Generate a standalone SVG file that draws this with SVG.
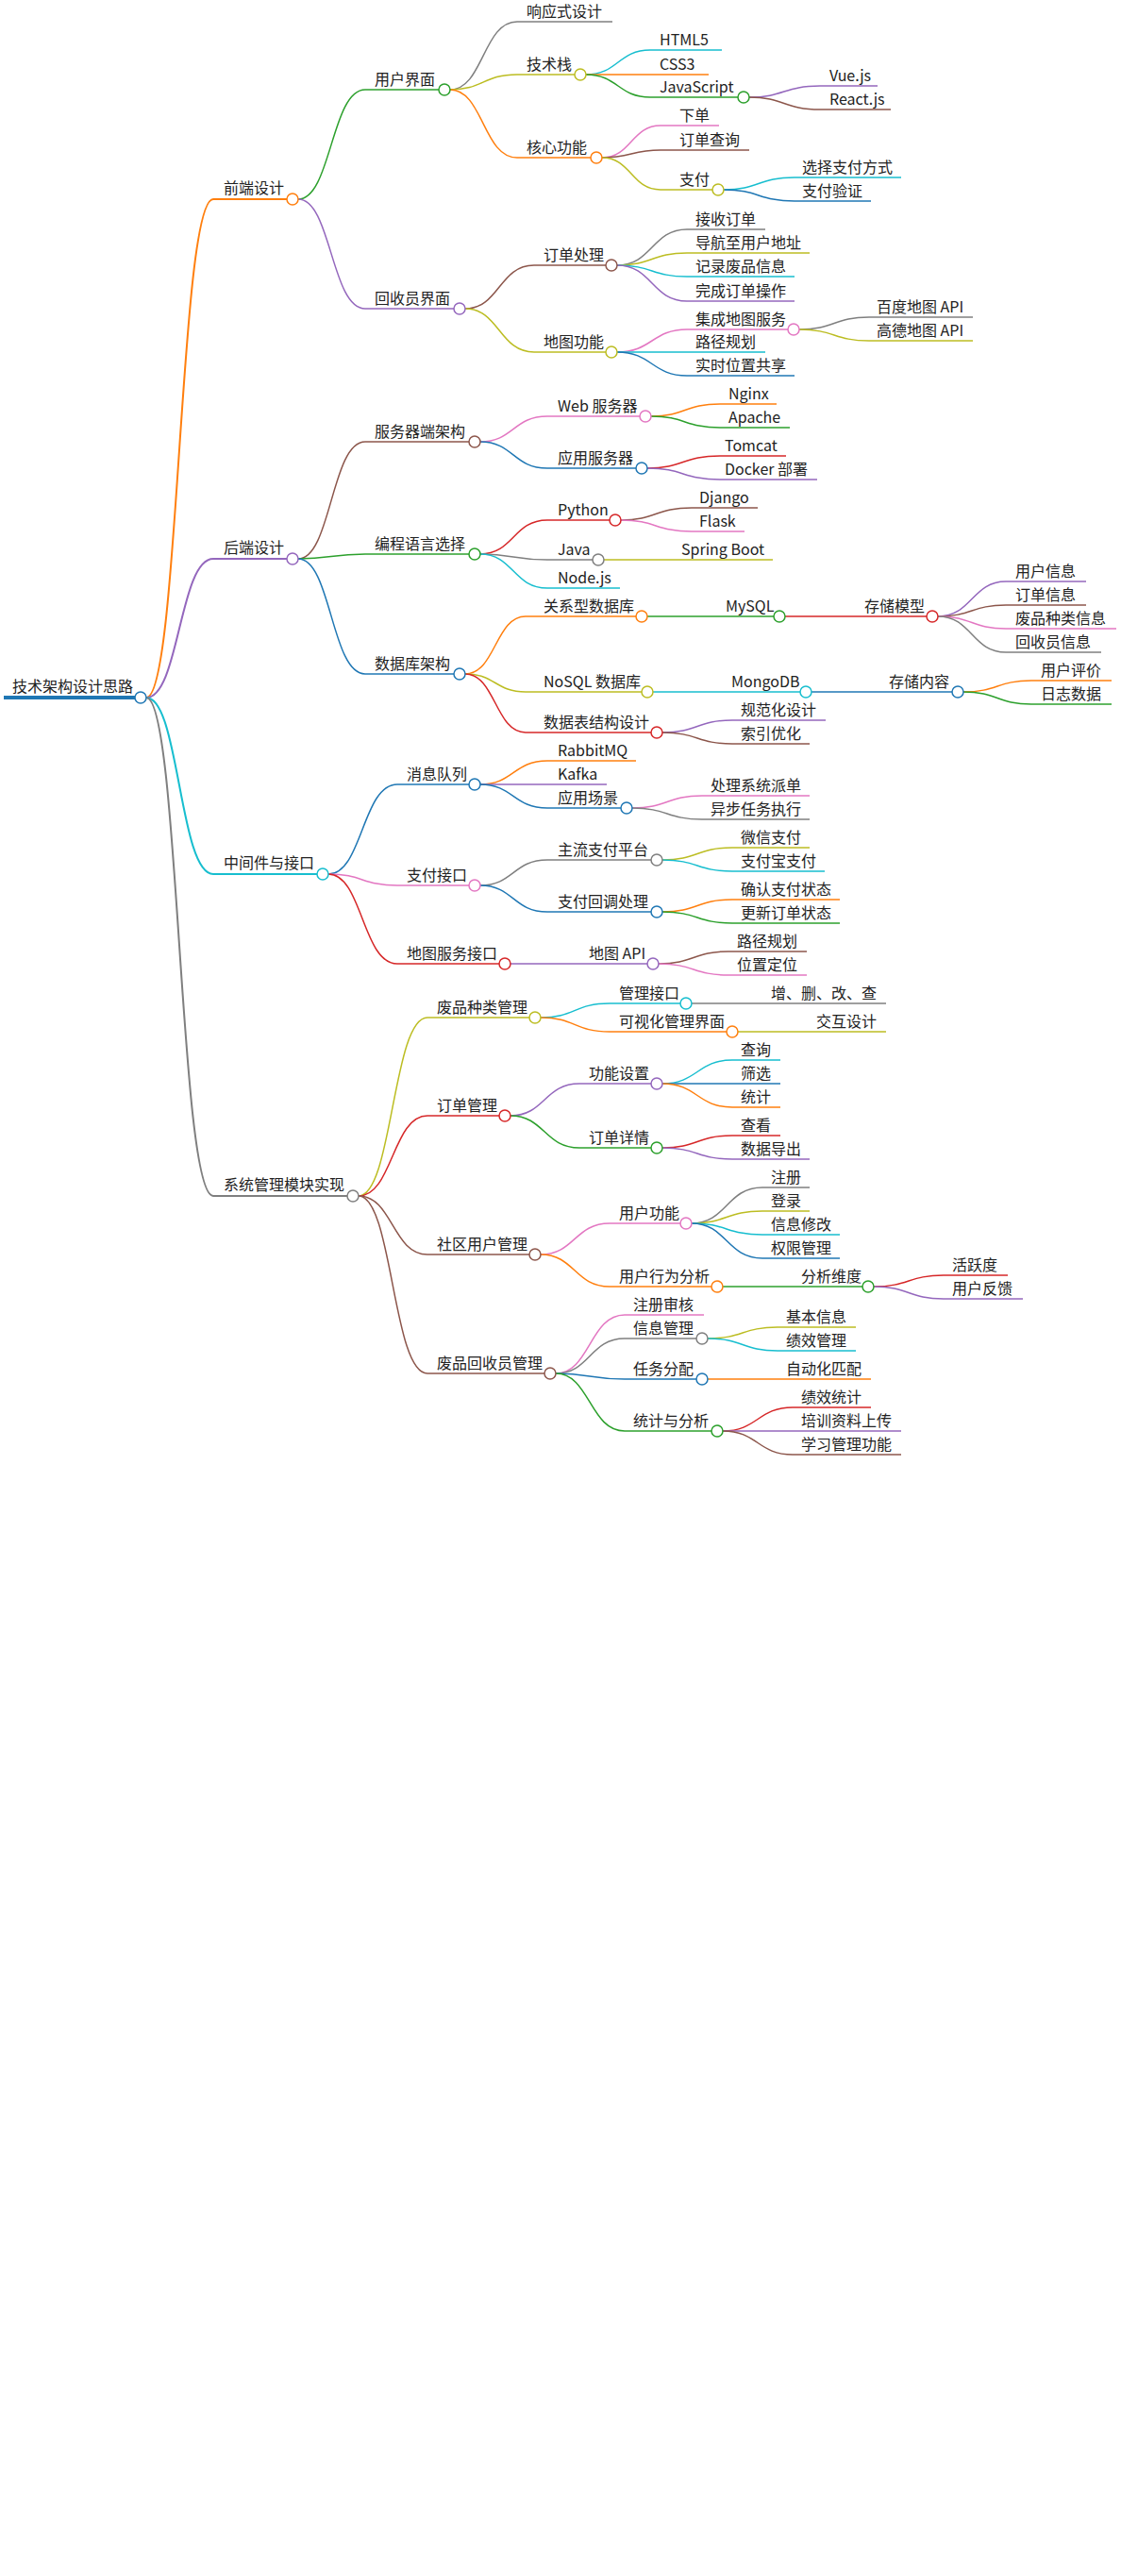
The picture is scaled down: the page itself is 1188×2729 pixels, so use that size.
<svg xmlns="http://www.w3.org/2000/svg" width="1188" height="2729" viewBox="0 0 1188 2729">
<style>
path{fill:none;stroke-width:1.5}
circle{fill:#fff;stroke-width:1.5}
text{font-family:"Noto Sans CJK SC","Noto Sans",sans-serif;font-size:16px;fill:#222}
.w2{stroke-width:2}
.B{stroke:#1f77b4}.O{stroke:#ff7f0e}.G{stroke:#2ca02c}.R{stroke:#d62728}.P{stroke:#9467bd}
.N{stroke:#8c564b}.K{stroke:#e377c2}.Y{stroke:#7f7f7f}.L{stroke:#bcbd22}.C{stroke:#17becf}
</style>
<rect width="1188" height="2729" fill="#fff"/>
<g id="connectors">
<path class="O w2" d="M155 739C190 739 190 211 226 211"/>
<path class="P w2" d="M155 739C190 739 190 592 226 592"/>
<path class="C w2" d="M155 739C190 739 190 926 226 926"/>
<path class="Y w2" d="M155 739C190 739 190 1267 226 1267"/>
<path class="G" d="M316 211C351 211 351 95 387 95"/>
<path class="P" d="M316 211C351 211 351 327 387 327"/>
<path class="N" d="M316 592C351 592 351 468 387 468"/>
<path class="G" d="M316 592C351 592 351 587 387 587"/>
<path class="B" d="M316 592C351 592 351 714 387 714"/>
<path class="B" d="M348 926C384 926 384 831 421 831"/>
<path class="K" d="M348 926C384 926 384 938 421 938"/>
<path class="R" d="M348 926C384 926 384 1021 421 1021"/>
<path class="L" d="M380 1267C416 1267 416 1078 453 1078"/>
<path class="R" d="M380 1267C416 1267 416 1182 453 1182"/>
<path class="N" d="M380 1267C416 1267 416 1329 453 1329"/>
<path class="N" d="M380 1267C416 1267 416 1455 453 1455"/>
<path class="Y" d="M477 95C512 95 512 23 548 23"/>
<path class="L" d="M477 95C512 95 512 79 548 79"/>
<path class="O" d="M477 95C512 95 512 167 548 167"/>
<path class="C" d="M621 79C655 79 655 53 689 53"/>
<path class="O" d="M621 79C655 79 655 79 689 79"/>
<path class="G" d="M621 79C655 79 655 103 689 103"/>
<path class="P" d="M794 103C831 103 831 91 869 91"/>
<path class="N" d="M794 103C831 103 831 116 869 116"/>
<path class="K" d="M638 167C669 167 669 133 700 133"/>
<path class="N" d="M638 167C669 167 669 159 700 159"/>
<path class="L" d="M638 167C669 167 669 201 700 201"/>
<path class="C" d="M767 201C804 201 804 188 842 188"/>
<path class="B" d="M767 201C804 201 804 213 842 213"/>
<path class="N" d="M493 327C529 327 529 281 566 281"/>
<path class="L" d="M493 327C529 327 529 373 566 373"/>
<path class="Y" d="M654 281C691 281 691 243 728 243"/>
<path class="L" d="M654 281C691 281 691 268 728 268"/>
<path class="C" d="M654 281C691 281 691 293 728 293"/>
<path class="P" d="M654 281C691 281 691 319 728 319"/>
<path class="K" d="M654 373C691 373 691 349 728 349"/>
<path class="C" d="M654 373C691 373 691 373 728 373"/>
<path class="B" d="M654 373C691 373 691 398 728 398"/>
<path class="Y" d="M847 349C884 349 884 336 921 336"/>
<path class="L" d="M847 349C884 349 884 361 921 361"/>
<path class="K" d="M509 468C544 468 544 441 580 441"/>
<path class="B" d="M509 468C544 468 544 496 580 496"/>
<path class="O" d="M690 441C726 441 726 428 763 428"/>
<path class="G" d="M690 441C726 441 726 453 763 453"/>
<path class="R" d="M686 496C724 496 724 483 763 483"/>
<path class="P" d="M686 496C724 496 724 508 763 508"/>
<path class="R" d="M509 587C544 587 544 551 580 551"/>
<path class="Y" d="M509 587C544 587 544 593 580 593"/>
<path class="C" d="M509 587C544 587 544 623 580 623"/>
<path class="N" d="M658 551C695 551 695 538 733 538"/>
<path class="K" d="M658 551C695 551 695 563 733 563"/>
<path class="L" d="M640 593H714"/>
<path class="O" d="M493 714C525 714 525 653 557 653"/>
<path class="L" d="M493 714C525 714 525 733 557 733"/>
<path class="R" d="M493 714C525 714 525 776 557 776"/>
<path class="G" d="M686 653H760"/>
<path class="R" d="M832 653H908"/>
<path class="P" d="M994 653C1030 653 1030 616 1066 616"/>
<path class="N" d="M994 653C1030 653 1030 641 1066 641"/>
<path class="K" d="M994 653C1030 653 1030 666 1066 666"/>
<path class="Y" d="M994 653C1030 653 1030 691 1066 691"/>
<path class="C" d="M692 733H767"/>
<path class="B" d="M860 733H934"/>
<path class="O" d="M1021 733C1057 733 1057 721 1093 721"/>
<path class="G" d="M1021 733C1057 733 1057 746 1093 746"/>
<path class="P" d="M702 776C739 776 739 763 776 763"/>
<path class="N" d="M702 776C739 776 739 788 776 788"/>
<path class="O" d="M509 831C544 831 544 806 580 806"/>
<path class="P" d="M509 831C544 831 544 831 580 831"/>
<path class="B" d="M509 831C544 831 544 856 580 856"/>
<path class="K" d="M670 856C707 856 707 843 744 843"/>
<path class="Y" d="M670 856C707 856 707 868 744 868"/>
<path class="Y" d="M509 938C544 938 544 911 580 911"/>
<path class="B" d="M509 938C544 938 544 966 580 966"/>
<path class="L" d="M702 911C739 911 739 898 776 898"/>
<path class="C" d="M702 911C739 911 739 923 776 923"/>
<path class="O" d="M702 966C739 966 739 953 776 953"/>
<path class="G" d="M702 966C739 966 739 978 776 978"/>
<path class="P" d="M541 1021H614"/>
<path class="N" d="M698 1021C735 1021 735 1008 772 1008"/>
<path class="K" d="M698 1021C735 1021 735 1033 772 1033"/>
<path class="C" d="M573 1078C609 1078 609 1063 646 1063"/>
<path class="O" d="M573 1078C609 1078 609 1093 646 1093"/>
<path class="Y" d="M733 1063H808"/>
<path class="L" d="M782 1093H856"/>
<path class="P" d="M541 1182C577 1182 577 1148 614 1148"/>
<path class="G" d="M541 1182C577 1182 577 1216 614 1216"/>
<path class="C" d="M702 1148C739 1148 739 1123 776 1123"/>
<path class="B" d="M702 1148H776"/>
<path class="O" d="M702 1148C739 1148 739 1173 776 1173"/>
<path class="R" d="M702 1216C739 1216 739 1203 776 1203"/>
<path class="P" d="M702 1216C739 1216 739 1228 776 1228"/>
<path class="K" d="M573 1329C609 1329 609 1296 646 1296"/>
<path class="O" d="M573 1329C609 1329 609 1363 646 1363"/>
<path class="Y" d="M733 1296C770 1296 770 1258 808 1258"/>
<path class="L" d="M733 1296C770 1296 770 1283 808 1283"/>
<path class="C" d="M733 1296C770 1296 770 1308 808 1308"/>
<path class="B" d="M733 1296C770 1296 770 1333 808 1333"/>
<path class="G" d="M766 1363H840"/>
<path class="R" d="M926 1363C963 1363 963 1351 1000 1351"/>
<path class="P" d="M926 1363C963 1363 963 1376 1000 1376"/>
<path class="K" d="M589 1455C625 1455 625 1393 662 1393"/>
<path class="Y" d="M589 1455C625 1455 625 1418 662 1418"/>
<path class="B" d="M589 1455C625 1455 625 1461 662 1461"/>
<path class="G" d="M589 1455C625 1455 625 1516 662 1516"/>
<path class="L" d="M750 1418C787 1418 787 1406 824 1406"/>
<path class="C" d="M750 1418C787 1418 787 1431 824 1431"/>
<path class="O" d="M750 1461H824"/>
<path class="R" d="M766 1516C803 1516 803 1491 840 1491"/>
<path class="P" d="M766 1516H840"/>
<path class="N" d="M766 1516C803 1516 803 1541 840 1541"/>
</g>
<g id="n-root"><path class="B" style="stroke-width:4" d="M4 739H143"/><circle class="B" cx="149" cy="739" r="6"/><text x="13" y="733">技术架构设计思路</text></g>
<g id="n-fe"><path class="O w2" d="M226 211H304"/><circle class="O" cx="310" cy="211" r="6"/><text x="237" y="205">前端设计</text></g>
<g id="n-be"><path class="P w2" d="M226 592H304"/><circle class="P" cx="310" cy="592" r="6"/><text x="237" y="586">后端设计</text></g>
<g id="n-mw"><path class="C w2" d="M226 926H336"/><circle class="C" cx="342" cy="926" r="6"/><text x="237" y="920">中间件与接口</text></g>
<g id="n-sm"><path class="Y w2" d="M226 1267H368"/><circle class="Y" cx="374" cy="1267" r="6"/><text x="237" y="1261">系统管理模块实现</text></g>
<g id="n-ui"><path class="G" d="M387 95H465"/><circle class="G" cx="471" cy="95" r="6"/><text x="397" y="90">用户界面</text></g>
<g id="n-rui"><path class="P" d="M387 327H481"/><circle class="P" cx="487" cy="327" r="6"/><text x="397" y="322">回收员界面</text></g>
<g id="n-srv"><path class="N" d="M387 468H497"/><circle class="N" cx="503" cy="468" r="6"/><text x="397" y="463">服务器端架构</text></g>
<g id="n-lang"><path class="G" d="M387 587H497"/><circle class="G" cx="503" cy="587" r="6"/><text x="397" y="582">编程语言选择</text></g>
<g id="n-db"><path class="B" d="M387 714H481"/><circle class="B" cx="487" cy="714" r="6"/><text x="397" y="709">数据库架构</text></g>
<g id="n-mq"><path class="B" d="M421 831H497"/><circle class="B" cx="503" cy="831" r="6"/><text x="431" y="826">消息队列</text></g>
<g id="n-pay"><path class="K" d="M421 938H497"/><circle class="K" cx="503" cy="938" r="6"/><text x="431" y="933">支付接口</text></g>
<g id="n-map"><path class="R" d="M421 1021H529"/><circle class="R" cx="535" cy="1021" r="6"/><text x="431" y="1016">地图服务接口</text></g>
<g id="n-cat"><path class="L" d="M453 1078H561"/><circle class="L" cx="567" cy="1078" r="6"/><text x="463" y="1073">废品种类管理</text></g>
<g id="n-ord"><path class="R" d="M453 1182H529"/><circle class="R" cx="535" cy="1182" r="6"/><text x="463" y="1177">订单管理</text></g>
<g id="n-cu"><path class="N" d="M453 1329H561"/><circle class="N" cx="567" cy="1329" r="6"/><text x="463" y="1324">社区用户管理</text></g>
<g id="n-rc"><path class="N" d="M453 1455H577"/><circle class="N" cx="583" cy="1455" r="6"/><text x="463" y="1450">废品回收员管理</text></g>
<g id="n-1"><path class="Y" d="M548 23H649"/><text x="558" y="18">响应式设计</text></g>
<g id="n-2"><path class="L" d="M548 79H609"/><circle class="L" cx="615" cy="79" r="6"/><text x="558" y="74">技术栈</text></g>
<g id="n-3"><path class="O" d="M548 167H626"/><circle class="O" cx="632" cy="167" r="6"/><text x="558" y="162">核心功能</text></g>
<g id="n-4"><path class="C" d="M689 53H765"/><text x="699" y="48">HTML5</text></g>
<g id="n-5"><path class="O" d="M689 79H751"/><text x="699" y="74">CSS3</text></g>
<g id="n-6"><path class="G" d="M689 103H782"/><circle class="G" cx="788" cy="103" r="6"/><text x="699" y="98">JavaScript</text></g>
<g id="n-7"><path class="P" d="M869 91H930"/><text x="879" y="86">Vue.js</text></g>
<g id="n-8"><path class="N" d="M869 116H944"/><text x="879" y="111">React.js</text></g>
<g id="n-9"><path class="K" d="M700 133H762"/><text x="720" y="128">下单</text></g>
<g id="n-10"><path class="N" d="M700 159H794"/><text x="720" y="154">订单查询</text></g>
<g id="n-11"><path class="L" d="M700 201H755"/><circle class="L" cx="761" cy="201" r="6"/><text x="720" y="196">支付</text></g>
<g id="n-12"><path class="C" d="M842 188H955"/><text x="850" y="183">选择支付方式</text></g>
<g id="n-13"><path class="B" d="M842 213H923"/><text x="850" y="208">支付验证</text></g>
<g id="n-14"><path class="N" d="M566 281H642"/><circle class="N" cx="648" cy="281" r="6"/><text x="576" y="276">订单处理</text></g>
<g id="n-15"><path class="L" d="M566 373H642"/><circle class="L" cx="648" cy="373" r="6"/><text x="576" y="368">地图功能</text></g>
<g id="n-16"><path class="Y" d="M728 243H811"/><text x="737" y="238">接收订单</text></g>
<g id="n-17"><path class="L" d="M728 268H858"/><text x="737" y="263">导航至用户地址</text></g>
<g id="n-18"><path class="C" d="M728 293H842"/><text x="737" y="288">记录废品信息</text></g>
<g id="n-19"><path class="P" d="M728 319H842"/><text x="737" y="314">完成订单操作</text></g>
<g id="n-20"><path class="K" d="M728 349H835"/><circle class="K" cx="841" cy="349" r="6"/><text x="737" y="344">集成地图服务</text></g>
<g id="n-21"><path class="C" d="M728 373H811"/><text x="737" y="368">路径规划</text></g>
<g id="n-22"><path class="B" d="M728 398H842"/><text x="737" y="393">实时位置共享</text></g>
<g id="n-23"><path class="Y" d="M921 336H1031"/><text x="929" y="331">百度地图 API</text></g>
<g id="n-24"><path class="L" d="M921 361H1031"/><text x="929" y="356">高德地图 API</text></g>
<g id="n-25"><path class="K" d="M580 441H678"/><circle class="K" cx="684" cy="441" r="6"/><text x="591" y="436">Web 服务器</text></g>
<g id="n-26"><path class="B" d="M580 496H674"/><circle class="B" cx="680" cy="496" r="6"/><text x="591" y="491">应用服务器</text></g>
<g id="n-27"><path class="O" d="M763 428H823"/><text x="772" y="423">Nginx</text></g>
<g id="n-28"><path class="G" d="M763 453H837"/><text x="772" y="448">Apache</text></g>
<g id="n-29"><path class="R" d="M763 483H833"/><text x="768" y="478">Tomcat</text></g>
<g id="n-30"><path class="P" d="M763 508H866"/><text x="768" y="503">Docker 部署</text></g>
<g id="n-31"><path class="R" d="M580 551H646"/><circle class="R" cx="652" cy="551" r="6"/><text x="591" y="546">Python</text></g>
<g id="n-32"><path class="Y" d="M580 593H628"/><circle class="Y" cx="634" cy="593" r="6"/><text x="591" y="588">Java</text></g>
<g id="n-33"><path class="C" d="M580 623H657"/><text x="591" y="618">Node.js</text></g>
<g id="n-34"><path class="N" d="M733 538H803"/><text x="741" y="533">Django</text></g>
<g id="n-35"><path class="K" d="M733 563H789"/><text x="741" y="558">Flask</text></g>
<g id="n-36"><path class="L" d="M714 593H819"/><text x="722" y="588">Spring Boot</text></g>
<g id="n-37"><path class="O" d="M557 653H674"/><circle class="O" cx="680" cy="653" r="6"/><text x="576" y="648">关系型数据库</text></g>
<g id="n-38"><path class="L" d="M557 733H680"/><circle class="L" cx="686" cy="733" r="6"/><text x="576" y="728">NoSQL 数据库</text></g>
<g id="n-39"><path class="R" d="M557 776H690"/><circle class="R" cx="696" cy="776" r="6"/><text x="576" y="771">数据表结构设计</text></g>
<g id="n-40"><path class="G" d="M760 653H820"/><circle class="G" cx="826" cy="653" r="6"/><text x="769" y="648">MySQL</text></g>
<g id="n-41"><path class="R" d="M908 653H982"/><circle class="R" cx="988" cy="653" r="6"/><text x="916" y="648">存储模型</text></g>
<g id="n-42"><path class="P" d="M1066 616H1151"/><text x="1076" y="611">用户信息</text></g>
<g id="n-43"><path class="N" d="M1066 641H1151"/><text x="1076" y="636">订单信息</text></g>
<g id="n-44"><path class="K" d="M1066 666H1183"/><text x="1076" y="661">废品种类信息</text></g>
<g id="n-45"><path class="Y" d="M1066 691H1167"/><text x="1076" y="686">回收员信息</text></g>
<g id="n-46"><path class="C" d="M767 733H848"/><circle class="C" cx="854" cy="733" r="6"/><text x="775" y="728">MongoDB</text></g>
<g id="n-47"><path class="B" d="M934 733H1009"/><circle class="B" cx="1015" cy="733" r="6"/><text x="942" y="728">存储内容</text></g>
<g id="n-48"><path class="O" d="M1093 721H1178"/><text x="1103" y="716">用户评价</text></g>
<g id="n-49"><path class="G" d="M1093 746H1178"/><text x="1103" y="741">日志数据</text></g>
<g id="n-50"><path class="P" d="M776 763H875"/><text x="785" y="758">规范化设计</text></g>
<g id="n-51"><path class="N" d="M776 788H858"/><text x="785" y="783">索引优化</text></g>
<g id="n-52"><path class="O" d="M580 806H674"/><text x="591" y="801">RabbitMQ</text></g>
<g id="n-53"><path class="P" d="M580 831H643"/><text x="591" y="826">Kafka</text></g>
<g id="n-54"><path class="B" d="M580 856H658"/><circle class="B" cx="664" cy="856" r="6"/><text x="591" y="851">应用场景</text></g>
<g id="n-55"><path class="K" d="M744 843H858"/><text x="753" y="838">处理系统派单</text></g>
<g id="n-56"><path class="Y" d="M744 868H858"/><text x="753" y="863">异步任务执行</text></g>
<g id="n-57"><path class="Y" d="M580 911H690"/><circle class="Y" cx="696" cy="911" r="6"/><text x="591" y="906">主流支付平台</text></g>
<g id="n-58"><path class="B" d="M580 966H690"/><circle class="B" cx="696" cy="966" r="6"/><text x="591" y="961">支付回调处理</text></g>
<g id="n-59"><path class="L" d="M776 898H858"/><text x="785" y="893">微信支付</text></g>
<g id="n-60"><path class="C" d="M776 923H874"/><text x="785" y="918">支付宝支付</text></g>
<g id="n-61"><path class="O" d="M776 953H890"/><text x="785" y="948">确认支付状态</text></g>
<g id="n-62"><path class="G" d="M776 978H890"/><text x="785" y="973">更新订单状态</text></g>
<g id="n-63"><path class="P" d="M614 1021H686"/><circle class="P" cx="692" cy="1021" r="6"/><text x="624" y="1016">地图 API</text></g>
<g id="n-64"><path class="N" d="M772 1008H855"/><text x="781" y="1003">路径规划</text></g>
<g id="n-65"><path class="K" d="M772 1033H855"/><text x="781" y="1028">位置定位</text></g>
<g id="n-66"><path class="C" d="M646 1063H721"/><circle class="C" cx="727" cy="1063" r="6"/><text x="656" y="1058">管理接口</text></g>
<g id="n-67"><path class="O" d="M646 1093H770"/><circle class="O" cx="776" cy="1093" r="6"/><text x="656" y="1088">可视化管理界面</text></g>
<g id="n-68"><path class="Y" d="M808 1063H939"/><text x="817" y="1058">增、删、改、查</text></g>
<g id="n-69"><path class="L" d="M856 1093H939"/><text x="865" y="1088">交互设计</text></g>
<g id="n-70"><path class="P" d="M614 1148H690"/><circle class="P" cx="696" cy="1148" r="6"/><text x="624" y="1143">功能设置</text></g>
<g id="n-71"><path class="G" d="M614 1216H690"/><circle class="G" cx="696" cy="1216" r="6"/><text x="624" y="1211">订单详情</text></g>
<g id="n-72"><path class="C" d="M776 1123H827"/><text x="785" y="1118">查询</text></g>
<g id="n-73"><path class="B" d="M776 1148H827"/><text x="785" y="1143">筛选</text></g>
<g id="n-74"><path class="O" d="M776 1173H827"/><text x="785" y="1168">统计</text></g>
<g id="n-75"><path class="R" d="M776 1203H827"/><text x="785" y="1198">查看</text></g>
<g id="n-76"><path class="P" d="M776 1228H858"/><text x="785" y="1223">数据导出</text></g>
<g id="n-77"><path class="K" d="M646 1296H721"/><circle class="K" cx="727" cy="1296" r="6"/><text x="656" y="1291">用户功能</text></g>
<g id="n-78"><path class="O" d="M646 1363H754"/><circle class="O" cx="760" cy="1363" r="6"/><text x="656" y="1358">用户行为分析</text></g>
<g id="n-79"><path class="Y" d="M808 1258H858"/><text x="817" y="1253">注册</text></g>
<g id="n-80"><path class="L" d="M808 1283H858"/><text x="817" y="1278">登录</text></g>
<g id="n-81"><path class="C" d="M808 1308H890"/><text x="817" y="1303">信息修改</text></g>
<g id="n-82"><path class="B" d="M808 1333H890"/><text x="817" y="1328">权限管理</text></g>
<g id="n-83"><path class="G" d="M840 1363H914"/><circle class="G" cx="920" cy="1363" r="6"/><text x="849" y="1358">分析维度</text></g>
<g id="n-84"><path class="R" d="M1000 1351H1068"/><text x="1009" y="1346">活跃度</text></g>
<g id="n-85"><path class="P" d="M1000 1376H1084"/><text x="1009" y="1371">用户反馈</text></g>
<g id="n-86"><path class="K" d="M662 1393H746"/><text x="671" y="1388">注册审核</text></g>
<g id="n-87"><path class="Y" d="M662 1418H738"/><circle class="Y" cx="744" cy="1418" r="6"/><text x="671" y="1413">信息管理</text></g>
<g id="n-88"><path class="B" d="M662 1461H738"/><circle class="B" cx="744" cy="1461" r="6"/><text x="671" y="1456">任务分配</text></g>
<g id="n-89"><path class="G" d="M662 1516H754"/><circle class="G" cx="760" cy="1516" r="6"/><text x="671" y="1511">统计与分析</text></g>
<g id="n-90"><path class="L" d="M824 1406H907"/><text x="833" y="1401">基本信息</text></g>
<g id="n-91"><path class="C" d="M824 1431H907"/><text x="833" y="1426">绩效管理</text></g>
<g id="n-92"><path class="O" d="M824 1461H923"/><text x="833" y="1456">自动化匹配</text></g>
<g id="n-93"><path class="R" d="M840 1491H923"/><text x="849" y="1486">绩效统计</text></g>
<g id="n-94"><path class="P" d="M840 1516H955"/><text x="849" y="1511">培训资料上传</text></g>
<g id="n-95"><path class="N" d="M840 1541H955"/><text x="849" y="1536">学习管理功能</text></g>
</svg>
